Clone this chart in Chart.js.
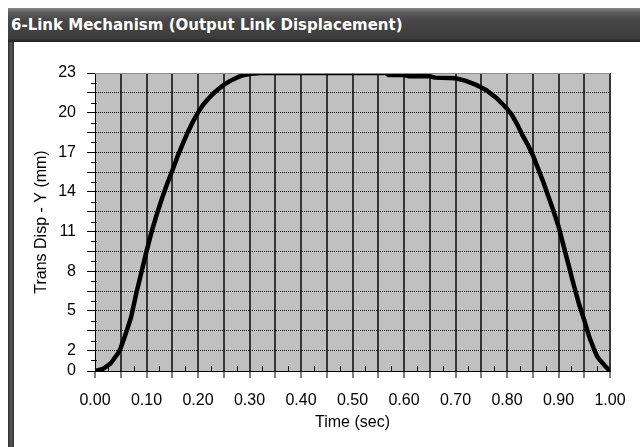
<!DOCTYPE html>
<html>
<head>
<meta charset="utf-8">
<script src="https://cdn.jsdelivr.net/npm/chart.js@4.4.1/dist/chart.umd.min.js"></script>
<style>
    body { margin: 0; background: #fff; }
    #wrap { position: relative; width: 640px; height: 447px; overflow: hidden; }
    #titlebar {
        position: absolute; left: 8px; top: 8px; width: 632px; height: 34px;
        background: linear-gradient(#8a8a8a 0px, #5e5e5e 4px, #474747 12px, #3c3c3c 30px, #262626 33px, #262626 34px);
        color: #fff; font: bold 15px "DejaVu Sans", sans-serif;
        line-height: 34px; padding-left: 3px; box-sizing: border-box; white-space: nowrap;
    }
    #frame {
        position: absolute; left: 8px; top: 42px; width: 6px; height: 405px;
        background: linear-gradient(90deg, #2e2e2e, #5a5a5a 50%, #2e2e2e);
    }
    canvas { position: absolute; left: 0; top: 0; }
</style>
</head>
<body>
<div id="wrap">
    <div id="titlebar">6-Link Mechanism (Output Link Displacement)</div>
    <div id="frame"></div>
    <canvas id="chart" width="640" height="447"></canvas>
</div>
<script>
const timeValues = [
    0, 0.015, 0.03, 0.045, 0.05, 0.06, 0.07, 0.08, 0.09, 0.1,
    0.11, 0.12, 0.13, 0.14, 0.15, 0.16, 0.17, 0.18, 0.19, 0.2,
    0.21, 0.22, 0.23, 0.24, 0.25, 0.26, 0.27, 0.28, 0.29, 0.3,
    0.32, 0.35, 0.4, 0.45, 0.5, 0.565, 0.57, 0.6, 0.61, 0.65,
    0.66, 0.7, 0.72, 0.74, 0.75, 0.76, 0.78, 0.8, 0.81, 0.82,
    0.83, 0.84, 0.85, 0.86, 0.87, 0.88, 0.89, 0.9, 0.91, 0.92,
    0.93, 0.94, 0.95, 0.96, 0.97, 0.975, 0.98, 0.99, 1.0,
]
const dispValues = [
    0.45, 0.6, 1.0, 1.8, 2.2, 3.3, 4.5, 6.3, 7.9, 9.5,
    11.0, 12.3, 13.5, 14.6, 15.6, 16.65, 17.6, 18.5, 19.3, 20.0,
    20.6, 21.05, 21.45, 21.8, 22.1, 22.35, 22.55, 22.72, 22.85, 22.93,
    23.0, 23.0, 23.0, 23.0, 23.0, 23.0, 22.85, 22.85, 22.75, 22.75,
    22.65, 22.6, 22.4, 22.1, 21.9, 21.7, 21.1, 20.3, 19.8, 19.1,
    18.3, 17.6, 16.8, 15.8, 14.8, 13.7, 12.6, 11.4, 9.9, 8.4,
    6.9, 5.5, 4.3, 3.0, 2.0, 1.55, 1.3, 0.85, 0.45,
]

const xTickLabels = ['0.00', '0.10', '0.20', '0.30', '0.40', '0.50', '0.60', '0.70', '0.80', '0.90', '1.00']
const yLabelValues = [23, 20, 17, 14, 11, 8, 5, 2]
const yTickLabels = ['23', '20', '17', '14', '11', '8', '5', '2']
const yMin = 0.45
const yMax = 23
const yMinLabel = '0'

const X_STEP = 0.025
const Y_STEP = 0.75

const near = (a, b) => Math.abs(a - b) < 1e-6
const isMajorY = (v) => {
    const k = (yMax - v) / (Y_STEP * 2)
    return near(k, Math.round(k))
}

const plotDecor = {
    id: 'plotDecor',
    beforeDraw(chart) {
        const { ctx, chartArea: a } = chart
        ctx.save()
        ctx.fillStyle = '#c0c0c0'
        ctx.fillRect(a.left, a.top, a.right - a.left, a.bottom - a.top)
        ctx.restore()
    },
    afterDraw(chart) {
        const { ctx, chartArea: a } = chart
        const xs = chart.scales.x
        const ys = chart.scales.y
        ctx.save()
        ctx.strokeStyle = '#000'
        ctx.lineWidth = 1
        ctx.beginPath()
        // short minor ticks
        xs.ticks.forEach((t, i) => {
            if (i % 2 === 1) {
                const px = Math.round(xs.getPixelForValue(t.value)) + 0.5
                ctx.moveTo(px, a.bottom - 5)
                ctx.lineTo(px, a.bottom)
            }
        })
        ys.ticks.forEach((t) => {
            if (!isMajorY(t.value) && !near(t.value, yMin)) {
                const py = Math.round(ys.getPixelForValue(t.value)) + 0.5
                ctx.moveTo(a.left - 4, py)
                ctx.lineTo(a.left + 2, py)
            }
        })
        ctx.stroke()
        // top edge of the plot
        ctx.strokeStyle = '#8c8c8c'
        ctx.beginPath()
        ctx.moveTo(a.left, Math.round(a.top) + 0.5)
        ctx.lineTo(a.right, Math.round(a.top) + 0.5)
        ctx.stroke()
        ctx.restore()
    },
}

const labelFont = { family: '"Liberation Sans", Arial, sans-serif', size: 16 }

new Chart(document.getElementById('chart'), {
    type: 'line',
    data: {
        datasets: [
            {
                data: timeValues.map((t, i) => ({ x: t, y: dispValues[i] })),
                borderColor: '#000',
                borderWidth: 4.5,
                pointRadius: 0,
                tension: 0,
                fill: false,
            },
        ],
    },
    options: {
        responsive: false,
        animation: false,
        devicePixelRatio: 1,
        layout: { padding: { top: 73, right: 30, left: 0, bottom: 0 } },
        plugins: {
            legend: { display: false },
            tooltip: { enabled: false },
        },
        scales: {
            x: {
                type: 'linear',
                min: 0,
                max: 1,
                afterBuildTicks(scale) {
                    const ticks = []
                    for (let i = 0; i <= Math.round(1 / X_STEP); i++) {
                        ticks.push({ value: +(i * X_STEP).toFixed(4) })
                    }
                    scale.ticks = ticks
                },
                afterFit(scale) {
                    scale.height = 76
                },
                ticks: {
                    autoSkip: false,
                    maxRotation: 0,
                    padding: 13,
                    color: '#000',
                    font: labelFont,
                    callback: (v, i) => (i % 4 === 0 ? xTickLabels[i / 4] : ''),
                },
                grid: {
                    color: (c) => (c.index % 2 === 0 && c.index > 0 ? '#363636' : 'rgba(0,0,0,0)'),
                    lineWidth: 2,
                    tickLength: 7,
                    tickWidth: 1,
                    tickColor: (c) => (c.index % 2 === 0 ? '#000' : 'rgba(0,0,0,0)'),
                },
                border: { color: '#000', width: 1 },
                title: {
                    display: true,
                    text: 'Time (sec)',
                    color: '#000',
                    font: labelFont,
                    padding: { top: 0, bottom: 15 },
                },
            },
            y: {
                type: 'linear',
                min: yMin,
                max: yMax,
                afterBuildTicks(scale) {
                    const ticks = [{ value: yMin }]
                    for (let v = yMax; v > yMin + 0.3; v -= Y_STEP) {
                        ticks.push({ value: +v.toFixed(4) })
                    }
                    ticks.sort((a, b) => a.value - b.value)
                    scale.ticks = ticks
                },
                afterFit(scale) {
                    scale.width = 95
                },
                ticks: {
                    autoSkip: false,
                    padding: 11,
                    color: '#000',
                    font: labelFont,
                    callback: (v) => {
                        if (near(v, yMin)) return yMinLabel
                        const k = yLabelValues.findIndex((lv) => near(lv, v))
                        return k >= 0 ? yTickLabels[k] : ''
                    },
                },
                grid: {
                    color: (c) => {
                        const v = c.tick.value
                        return isMajorY(v) && v < yMax && !near(v, yMin) ? '#000' : 'rgba(0,0,0,0)'
                    },
                    lineWidth: 1,
                    tickLength: 8,
                    tickWidth: 1,
                    tickColor: (c) => {
                        const v = c.tick.value
                        return isMajorY(v) || near(v, yMin) ? '#000' : 'rgba(0,0,0,0)'
                    },
                },
                border: { color: '#000', width: 1, dash: [1, 1] },
                title: {
                    display: true,
                    text: 'Trans Disp - Y (mm)',
                    color: '#000',
                    font: labelFont,
                    padding: { top: 32, bottom: 0 },
                },
            },
        },
    },
    plugins: [plotDecor],
})
</script>
</body>
</html>
